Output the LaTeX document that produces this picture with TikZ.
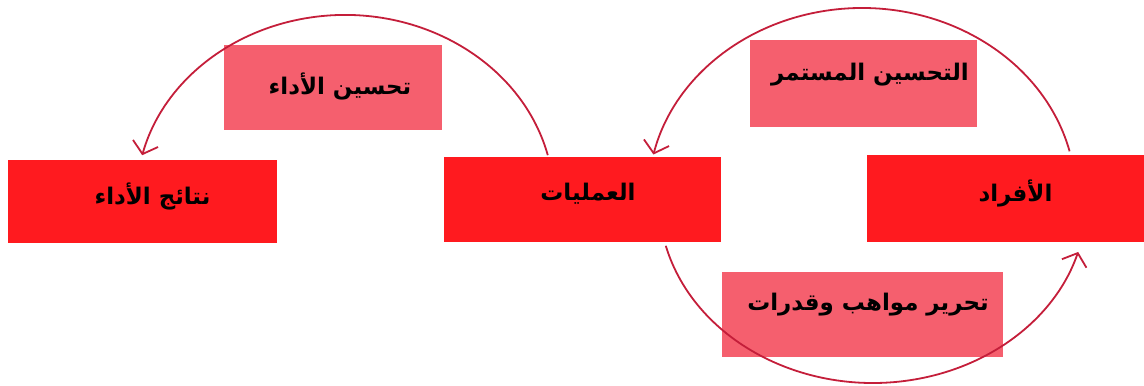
\documentclass[tikz,border=0pt]{standalone}
\usepackage{fontspec}
\usetikzlibrary{arrows.meta}
\newfontfamily\arabicfont[Script=Arabic]{DejaVu Sans}
\TeXXeTstate=1
\definecolor{mainred}{HTML}{FF1A1F}
\definecolor{pinkbox}{HTML}{F55F6E}
\definecolor{arcred}{HTML}{C41E3A}
\tikzset{
  mainbox/.style={fill=mainred, draw=none, inner sep=0pt},
  labelbox/.style={fill=pinkbox, draw=none, inner sep=0pt},
  txt/.style={font=\arabicfont\bfseries\fontsize{23}{26}\selectfont, text=black, inner sep=0pt},
  cyc/.style={draw=arcred, line width=1.8bp, -{Straight Barb[length=11bp,width=26bp,line width=1.8bp]}}
}
\begin{document}
\begin{tikzpicture}[x=1bp,y=1bp]
\useasboundingbox (0,0) rectangle (1144,385);
% main boxes
\node[mainbox, minimum width=269bp, minimum height=83bp] (res) at (142.5,183.5) {};
\node[mainbox, minimum width=277bp, minimum height=85bp] (proc) at (582,185.5) {};
\node[mainbox, minimum width=277bp, minimum height=87bp] (ppl) at (1005.5,186.5) {};
% label boxes
\node[labelbox, minimum width=218bp, minimum height=85bp] (perf) at (333,297.5) {};
\node[labelbox, minimum width=227bp, minimum height=87bp] (cont) at (863,301.5) {};
\node[labelbox, minimum width=281bp, minimum height=85bp] (tal) at (862,70.5) {};
% texts
\node[txt] at ([xshift=10bp,yshift=5bp]res.center) {\beginR نتائج الأداء\endR};
\node[txt] at ([xshift=6bp,yshift=6bp]proc.center) {\beginR العمليات\endR};
\node[txt] at ([xshift=10bp,yshift=5bp]ppl.center) {\beginR الأفراد\endR};
\node[txt] at ([xshift=7bp,yshift=1bp]perf.center) {\beginR تحسين الأداء\endR};
\node[txt] at ([xshift=7bp,yshift=9bp]cont.center) {\beginR التحسين المستمر\endR};
\node[txt] at ([xshift=6bp,yshift=10bp]tal.center) {\beginR تحرير مواهب وقدرات\endR};
% arc start points on the boxes
\coordinate (s1) at (547.8,229.8);
\coordinate (s2) at (1069.6,233.7);
\coordinate (s3) at (665.8,139.2);
% arcs
\draw[cyc] (s1) arc[start angle=14, end angle=166, x radius=209, y radius=185];
\draw[cyc] (s2) arc[start angle=14, end angle=167, x radius=214, y radius=189];
\draw[cyc] (s3) arc[start angle=194.5, end angle=343.5, x radius=214, y radius=183];
\end{tikzpicture}
\end{document}
